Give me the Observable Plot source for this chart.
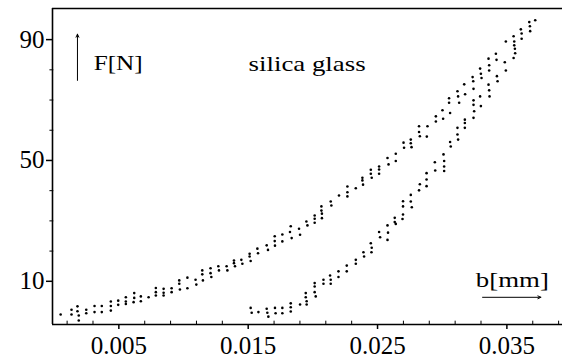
<!DOCTYPE html>
<html>
<head>
<meta charset="utf-8">
<script src="https://cdn.jsdelivr.net/npm/d3@7"></script>
<script src="https://cdn.jsdelivr.net/npm/@observablehq/plot@0.6"></script>
<style>
  html, body { margin: 0; padding: 0; background: #fff; }
  #chart { width: 562px; height: 360px; }
  #chart svg, #chart svg text { font-family: "Liberation Serif", "DejaVu Serif", serif !important; }
</style>
</head>
<body>
<div id="chart"></div>
<script>
// ---- data: b [mm] and F [N] ----
const loadB = [
  0.0005, 0.00134, 0.00134, 0.0018, 0.0018, 0.0019, 0.0019, 0.00248, 0.00248, 0.00312,
  0.00312, 0.00368, 0.00368, 0.00438, 0.00438, 0.00438, 0.00495, 0.00495, 0.00554, 0.00554,
  0.00554, 0.00619, 0.00619, 0.00614, 0.0067, 0.0067, 0.0073, 0.00786, 0.00786, 0.00786,
  0.00846, 0.00846, 0.00846, 0.00908, 0.00908, 0.00967, 0.00967, 0.00972, 0.0103, 0.0103,
  0.01093, 0.01099, 0.01145, 0.01145, 0.0115, 0.01209, 0.01209, 0.01215, 0.01269, 0.01274,
  0.01333, 0.01339, 0.0139, 0.0139, 0.01398, 0.01447, 0.01455, 0.01511, 0.01511, 0.01519,
  0.01571, 0.01576, 0.01643, 0.01653, 0.01705, 0.01705, 0.01707, 0.01764, 0.01764, 0.01829,
  0.01823, 0.01836, 0.01893, 0.01901, 0.0195, 0.01958, 0.02014, 0.02014, 0.02014, 0.02066,
  0.02066, 0.02070, 0.02070, 0.02138, 0.02143, 0.02202, 0.02267, 0.02267, 0.02267, 0.02332,
  0.02383, 0.02383, 0.02388, 0.02448, 0.02448, 0.02455, 0.02512, 0.02512, 0.02512, 0.02577,
  0.02585, 0.02641, 0.02641, 0.02701, 0.02705, 0.02757, 0.02757, 0.02763, 0.02821, 0.02821,
  0.02827, 0.02886, 0.02881, 0.02951, 0.02951, 0.03002, 0.03007, 0.03053, 0.03053, 0.03061,
  0.03118, 0.03123, 0.03131, 0.0317, 0.03177, 0.03235, 0.0324, 0.03242, 0.03293, 0.03299,
  0.03304, 0.03358, 0.03363, 0.03363, 0.03415, 0.0342, 0.03492, 0.03552, 0.03557, 0.03557,
  0.03562, 0.03564, 0.03608, 0.03614, 0.03614, 0.03673, 0.03678, 0.0368, 0.03719
];
const loadF = [
  -1.0, 0.6, -1.0, 1.7, 0.1, -1.3, -3.0, 0.6, -0.6, 1.8,
  -0.2, 1.8, -0.2, 3.3, 1.8, 0.3, 3.6, 2.2, 4.7, 3.3,
  2.5, 6.1, 4.5, 3.1, 5.0, 3.4, 4.7, 7.8, 6.4, 5.3,
  7.5, 6.2, 5.3, 7.7, 6.4, 10.3, 9.2, 7.3, 11.2, 7.7,
  10.5, 8.9, 13.6, 12.3, 10.3, 14.3, 12.7, 11.4, 15.0, 13.6,
  15.0, 13.6, 16.9, 16.0, 15.0, 17.1, 15.8, 19.1, 18.2, 16.7,
  20.8, 19.3, 21.9, 20.4, 24.9, 23.3, 21.8, 25.5, 23.2, 28.2,
  26.3, 24.3, 27.4, 25.4, 29.8, 28.5, 31.8, 30.7, 29.4, 34.8,
  33.4, 32.4, 30.9, 36.4, 35.1, 38.4, 41.4, 39.5, 38.1, 40.8,
  44.3, 43.4, 42.0, 46.9, 45.6, 44.3, 48.0, 47.0, 45.6, 50.8,
  48.7, 52.2, 49.8, 55.9, 54.2, 56.9, 55.7, 54.4, 61.3, 59.4,
  58.0, 61.3, 57.9, 64.6, 62.9, 66.6, 63.8, 70.6, 69.1, 65.7,
  72.9, 71.2, 69.1, 75.2, 71.9, 77.6, 76.2, 73.7, 80.4, 78.7,
  77.3, 83.7, 81.5, 79.8, 85.3, 83.3, 89.4, 91.1, 89.4, 88.1,
  87.0, 85.5, 93.4, 92.0, 90.3, 95.8, 94.4, 92.8, 96.4
];
const unloadB = [
  0.01519, 0.01527, 0.01579, 0.01643, 0.01648, 0.01656, 0.01707, 0.01712, 0.01764, 0.01764,
  0.01829, 0.01829, 0.01829, 0.01901, 0.01945, 0.01945, 0.01952, 0.01952, 0.02014, 0.02014,
  0.02014, 0.02022, 0.02082, 0.02082, 0.02133, 0.02138, 0.02138, 0.02198, 0.02198, 0.02262,
  0.02262, 0.02332, 0.02332, 0.02391, 0.02396, 0.02448, 0.02455, 0.02453, 0.02512, 0.0252,
  0.02577, 0.02581, 0.02577, 0.02633, 0.02633, 0.02641, 0.02697, 0.02697, 0.02697, 0.02693,
  0.02757, 0.02757, 0.02765, 0.02827, 0.02821, 0.02879, 0.02879, 0.02879, 0.02943, 0.02946,
  0.0301, 0.03015, 0.03015, 0.03015, 0.03061, 0.03066, 0.03118, 0.03118, 0.03123, 0.03175,
  0.03175, 0.03175, 0.03242, 0.03242, 0.03247, 0.03242, 0.03293, 0.03299, 0.03358, 0.03363,
  0.03366, 0.03423, 0.03428, 0.03484, 0.03492, 0.03552
];
const unloadF = [
  1.2, -0.4, -0.2, 0.9, -0.4, -1.7, 1.2, -0.6, 1.2, -0.6,
  2.7, 1.4, 0.0, 2.3, 6.1, 4.7, 3.4, 2.3, 9.4, 8.3,
  6.4, 5.0, 10.5, 9.2, 11.9, 10.5, 9.2, 13.3, 11.4, 15.2,
  13.3, 17.1, 15.8, 19.6, 18.2, 22.6, 21.1, 19.6, 26.3, 24.6,
  28.5, 26.1, 23.7, 31.0, 29.6, 29.0, 36.5, 34.8, 32.1, 30.6,
  38.6, 36.4, 34.5, 42.1, 40.1, 45.8, 43.7, 41.5, 49.4, 46.7,
  52.0, 49.8, 48.0, 46.5, 56.1, 54.6, 60.8, 58.6, 56.9, 63.5,
  62.4, 60.8, 69.9, 68.4, 66.3, 64.1, 71.2, 68.0, 75.1, 73.2,
  71.2, 77.9, 76.2, 82.5, 79.8, 83.9
];

const xTicks = [0.005, 0.015, 0.025, 0.035];
const xTickLabels = ["0.005", "0.015", "0.025", "0.035"];
const xMinorTicks = [0.001, 0.003, 0.007, 0.009, 0.011, 0.013, 0.017, 0.019, 0.021, 0.023,
                     0.027, 0.029, 0.031, 0.033, 0.037, 0.039];
const yTicks = [10, 50, 90];
const yTickLabels = ["10", "50", "90"];
const yMinorTicks = [20, 30, 40, 60, 70, 80];

const xDomain = [-0.00013, 0.0393];
const yDomain = [-4.3, 100.3];

const loading = loadB.map((b, i) => ({b, F: loadF[i]}));
const unloading = unloadB.map((b, i) => ({b, F: unloadF[i]}));

const serif = "Liberation Serif";

const chart = Plot.plot({
  width: 562,
  height: 360,
  marginLeft: 52,
  marginRight: 0,
  marginTop: 8,
  marginBottom: 36,
  x: {domain: xDomain},
  y: {domain: yDomain},
  style: {fontFamily: serif, fontSize: "24px", color: "#000", background: "#fff"},
  marks: [
    Plot.axisX(xTicks, {tickSize: 5, tickPadding: 7, strokeWidth: 1.5, fontFamily: serif,
      tickFormat: d => xTickLabels[xTicks.indexOf(d)], label: null, fontSize: 25}),
    Plot.axisY(yTicks, {tickSize: 6, tickPadding: 2, strokeWidth: 1.5, fontFamily: serif,
      tickFormat: d => yTickLabels[yTicks.indexOf(d)], label: null, fontSize: 25}),
    Plot.ruleX(xMinorTicks, {y1: yDomain[0], y2: yDomain[0] + 1.1, stroke: "#000", strokeWidth: 1}),
    Plot.ruleY(yMinorTicks, {x1: xDomain[0] - 0.0002, x2: xDomain[0] + 0.0001, stroke: "#000", strokeWidth: 1}),
    Plot.ruleX([xDomain[0]], {stroke: "#000", strokeWidth: 1.6}),
    Plot.ruleY(yDomain, {stroke: "#000", strokeWidth: 1.6}),
    Plot.dot(loading, {x: "b", y: "F", r: 1.3, fill: "#000", stroke: "none"}),
    Plot.dot(unloading, {x: "b", y: "F", r: 1.3, fill: "#000", stroke: "none"}),
    Plot.arrow([0], {x1: 0.0018, y1: 76.5, x2: 0.0018, y2: 91.8, headLength: 5, headAngle: 50, stroke: "#000", strokeWidth: 1}),
    Plot.text(["F[N]"], {x: 0.00305, y: 82.2, text: d => d, textAnchor: "start", fontSize: 22, fontFamily: serif, fill: "#000"}),
    Plot.text(["silica glass"], {x: 0.01503, y: 82.0, text: d => d, textAnchor: "start", fontSize: 22, fontFamily: serif, fill: "#000"}),
    Plot.text(["b[mm]"], {x: 0.0326, y: 10.4, text: d => d, textAnchor: "start", fontSize: 22, fontFamily: serif, fill: "#000"}),
    Plot.arrow([0], {x1: 0.03312, y1: 4.7, x2: 0.03763, y2: 4.7, headLength: 5, headAngle: 50, stroke: "#000", strokeWidth: 1})
  ]
});

const stretch = {"F[N]": 49, "silica glass": 117, "b[mm]": 73};
chart.querySelectorAll("text").forEach(t => {
  const s = t.textContent;
  if (stretch[s]) {
    t.setAttribute("textLength", stretch[s]);
    t.setAttribute("lengthAdjust", "spacingAndGlyphs");
  }
});

document.getElementById("chart").appendChild(chart);
</script>
</body>
</html>
